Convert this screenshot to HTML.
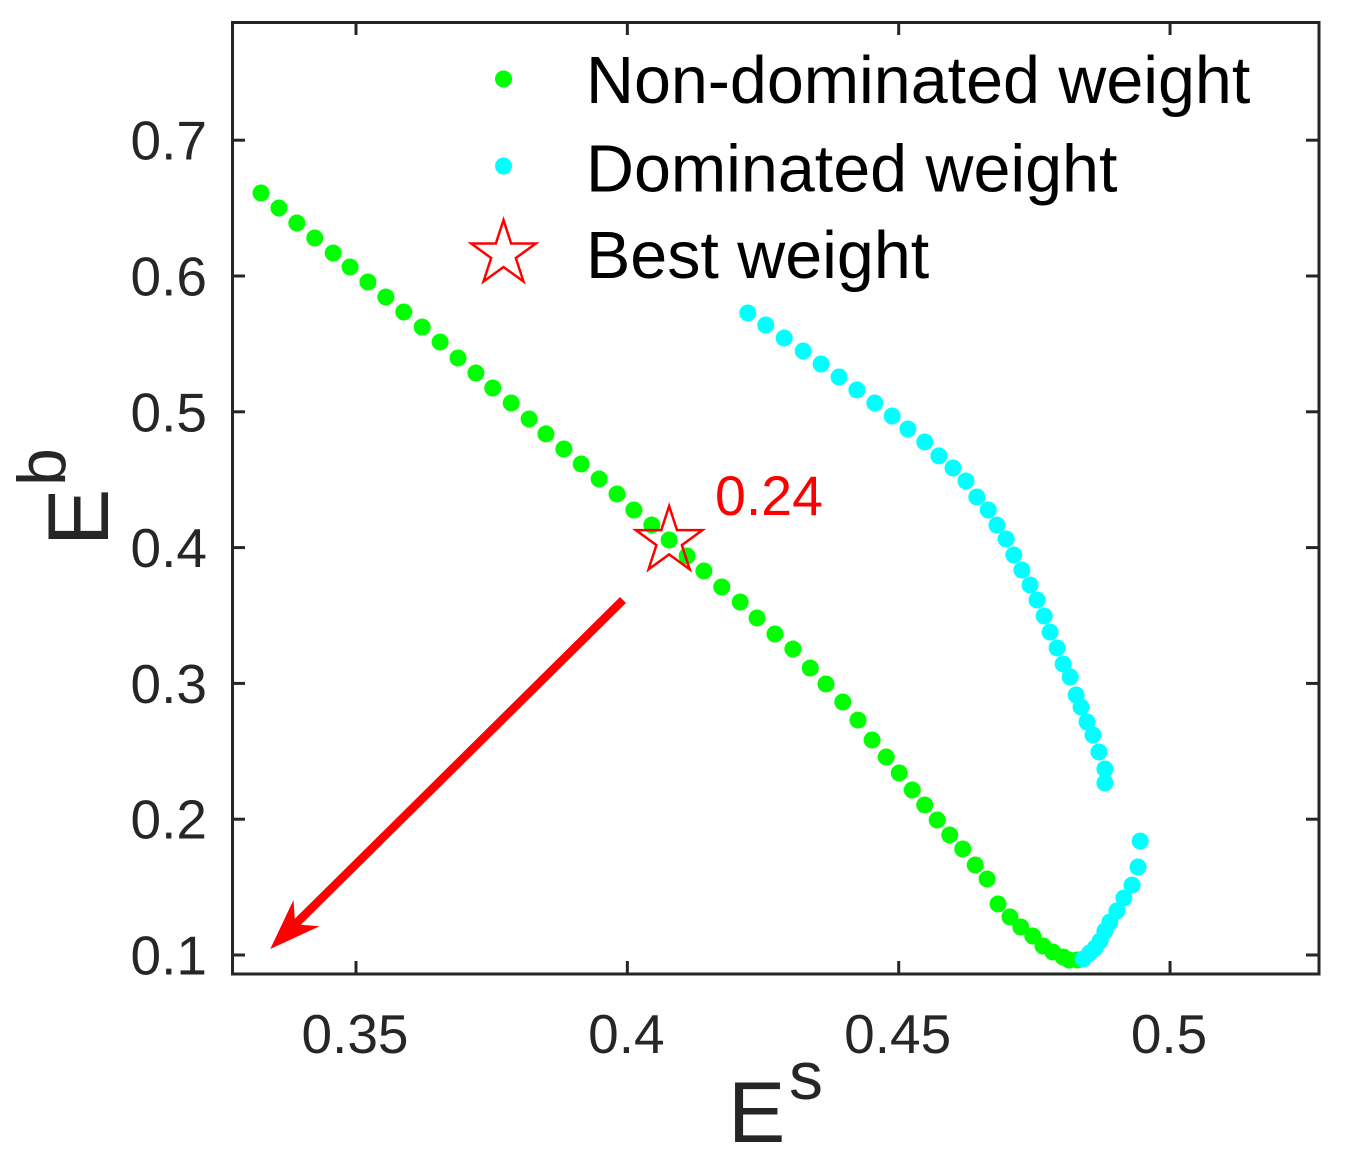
<!DOCTYPE html>
<html lang="en">
<head>
<meta charset="utf-8">
<title>Non-dominated and dominated weights</title>
<style>
html,body{margin:0;padding:0;background:#fff;width:1345px;height:1157px;overflow:hidden}
svg{display:block}
text{font-family:"Liberation Sans",Arial,sans-serif}
</style>
</head>
<body>
<svg id="chart" xmlns="http://www.w3.org/2000/svg" width="1345" height="1157" viewBox="0 0 1345 1157">
  <rect x="232.5" y="22.5" width="1086.5" height="951.5" fill="#fff"/>
  <g id="ticks"></g>
  <g id="tick-labels"></g>
  <g id="series"></g>
  <rect x="232.5" y="22.5" width="1086.5" height="951.5" fill="none" stroke="#262626" stroke-width="3"/>
  <g fill="#262626">
    <text x="728" y="1142" font-size="86">E</text>
    <text x="789" y="1099" font-size="68">s</text>
  </g>
  <g fill="#262626">
    <text transform="translate(108,546) rotate(-90)" font-size="86">E</text>
    <text transform="translate(65,486) rotate(-90)" font-size="68">b</text>
  </g>
  <text x="715" y="515" font-size="55.5" fill="#f00">0.24</text>
  <g>
    <circle cx="503.5" cy="79" r="8.5" fill="#0f0"/>
    <text x="586" y="103" font-size="66.4" fill="#000">Non-dominated weight</text>
    <circle cx="503.5" cy="166" r="8.5" fill="#0ff"/>
    <text x="586" y="191.5" font-size="66.4" fill="#000">Dominated weight</text>
    <polygon id="legend-star" fill="none" stroke="#f00" stroke-width="2.5"></polygon>
    <text x="586" y="278" font-size="66.4" fill="#000">Best weight</text>
  </g>
</svg>
<script>
const xTicks = [0.35, 0.4, 0.45, 0.5];
const xTickLabels = ['0.35', '0.4', '0.45', '0.5'];
const yTicks = [0.1, 0.2, 0.3, 0.4, 0.5, 0.6, 0.7];
const yTickLabels = ['0.1', '0.2', '0.3', '0.4', '0.5', '0.6', '0.7'];

const nonDominatedEs = [0.3325,0.3358,0.3391,0.3424,0.3458,0.3489,0.3522,0.3555,0.3588,0.3622,0.3655,0.3688,0.3721,0.3752,0.3786,0.3819,0.3850,0.3883,0.3915,0.3948,0.3981,0.4012,0.4045,0.4077,0.4110,0.4141,0.4174,0.4208,0.4239,0.4272,0.4305,0.4337,0.4366,0.4397,0.4425,0.4451,0.4477,0.4501,0.4525,0.4548,0.4571,0.4594,0.4618,0.4641,0.4663,0.4683,0.4705,0.4725,0.4747,0.4766,0.4784,0.4803,0.4814,0.4829];
const nonDominatedEb = [0.6611,0.6501,0.6390,0.6280,0.6169,0.6066,0.5956,0.5845,0.5735,0.5624,0.5514,0.5396,0.5286,0.5175,0.5065,0.4947,0.4837,0.4726,0.4616,0.4505,0.4395,0.4277,0.4166,0.4056,0.3938,0.3828,0.3710,0.3599,0.3482,0.3364,0.3253,0.3113,0.2996,0.2863,0.2730,0.2583,0.2458,0.2340,0.2215,0.2105,0.1994,0.1884,0.1781,0.1663,0.1560,0.1376,0.1280,0.1206,0.1140,0.1066,0.1022,0.0985,0.0963,0.0963];

const dominatedLowerEs = [0.4840,0.4852,0.4862,0.4871,0.4880,0.4889,0.4902,0.4915,0.4930,0.4941,0.4945];
const dominatedLowerEb = [0.0971,0.1015,0.1052,0.1103,0.1177,0.1243,0.1324,0.1420,0.1515,0.1648,0.1839];

const dominatedUpperEs = [0.4222,0.4255,0.4289,0.4324,0.4357,0.4390,0.4423,0.4456,0.4488,0.4517,0.4548,0.4574,0.4600,0.4624,0.4644,0.4665,0.4681,0.4698,0.4712,0.4727,0.4742,0.4755,0.4768,0.4779,0.4792,0.4803,0.4816,0.4827,0.4836,0.4847,0.4858,0.4869,0.4880,0.4880];
const dominatedUpperEb = [0.5728,0.5639,0.5543,0.5448,0.5352,0.5256,0.5161,0.5065,0.4969,0.4873,0.4778,0.4675,0.4586,0.4490,0.4373,0.4277,0.4166,0.4063,0.3946,0.3835,0.3725,0.3614,0.3496,0.3378,0.3261,0.3143,0.3047,0.2915,0.2826,0.2716,0.2620,0.2495,0.2370,0.2267];

const bestEs = [0.4077];
const bestEb = [0.4056];

const arrowEs = [0.3992, 0.3342];
const arrowEb = [0.3614, 0.1044];

const NS = 'http://www.w3.org/2000/svg';
function xScale(v) { return 356 + (v - 0.35) * 5427; }
function yScale(v) { return 955 - (v - 0.1) * 1358; }

function make(tag, attrs, parent) {
  const el = document.createElementNS(NS, tag);
  for (const k in attrs) el.setAttribute(k, attrs[k]);
  parent.appendChild(el);
  return el;
}
function starPoints(cx, cy, R) {
  const r = R * 0.382, pts = [];
  for (let i = 0; i < 10; i++) {
    const a = -Math.PI / 2 + i * Math.PI / 5, q = i % 2 ? r : R;
    pts.push((cx + q * Math.cos(a)).toFixed(2) + ',' + (cy + q * Math.sin(a)).toFixed(2));
  }
  return pts.join(' ');
}

const tickLayer = document.getElementById('ticks');
const labelLayer = document.getElementById('tick-labels');
const seriesLayer = document.getElementById('series');
const tickStyle = { stroke: '#262626', 'stroke-width': 3 };

xTicks.forEach(function (v, i) {
  const px = xScale(v);
  const bottom = make('line', Object.assign({ x1: px, x2: px, y1: 974, y2: 961 }, tickStyle), tickLayer);
  
  
  const top = make('line', Object.assign({ x1: px, x2: px, y1: 22, y2: 35 }, tickStyle), tickLayer);
  
  
  const label = make('text', { x: px - 1, y: 1053, 'font-size': 55, 'text-anchor': 'middle', fill: '#262626' }, labelLayer);
  label.textContent = xTickLabels[i];
  
  
});

yTicks.forEach(function (v, i) {
  const py = yScale(v);
  const left = make('line', Object.assign({ x1: 232, x2: 245, y1: py, y2: py }, tickStyle), tickLayer);
  
  
  const right = make('line', Object.assign({ x1: 1319, x2: 1306, y1: py, y2: py }, tickStyle), tickLayer);
  
  
  const label = make('text', { x: 207, y: py + 19.5, 'font-size': 55, 'text-anchor': 'end', fill: '#262626' }, labelLayer);
  label.textContent = yTickLabels[i];
  
  
});

nonDominatedEs.forEach(function (v, i) {
  const c = make('circle', { cx: xScale(v), cy: yScale(nonDominatedEb[i]), r: 8.5, fill: '#0f0' }, seriesLayer);
  
  
});
dominatedUpperEs.forEach(function (v, i) {
  const c = make('circle', { cx: xScale(v), cy: yScale(dominatedUpperEb[i]), r: 8.5, fill: '#0ff' }, seriesLayer);
  
  
});
dominatedLowerEs.forEach(function (v, i) {
  const c = make('circle', { cx: xScale(v), cy: yScale(dominatedLowerEb[i]), r: 8.5, fill: '#0ff' }, seriesLayer);
  
  
});

bestEs.forEach(function (v, i) {
  const s = make('polygon', { points: starPoints(xScale(v), yScale(bestEb[i]) + 1, 35), fill: 'none', stroke: '#f00', 'stroke-width': 2.5 }, seriesLayer);
  
  
});

const ax0 = xScale(arrowEs[0]), ay0 = yScale(arrowEb[0]);
const ax1 = xScale(arrowEs[1]), ay1 = yScale(arrowEb[1]);
const alen = Math.hypot(ax1 - ax0, ay1 - ay0);
const ux = (ax1 - ax0) / alen, uy = (ay1 - ay0) / alen;
const shaft = make('line', { x1: ax0, y1: ay0, x2: ax1 - ux * 30, y2: ay1 - uy * 30, stroke: '#f00', 'stroke-width': 8.5 }, seriesLayer);


const hx = ax1 - ux * 51, hy = ay1 - uy * 51;
const nx = ax1 - ux * 35, ny = ay1 - uy * 35;
const head = [
  ax1 + ',' + ay1,
  (hx + uy * 18.5) + ',' + (hy - ux * 18.5),
  nx + ',' + ny,
  (hx - uy * 18.5) + ',' + (hy + ux * 18.5)
].join(' ');
const arrowHead = make('polygon', { points: head, fill: '#f00' }, seriesLayer);



document.getElementById('legend-star').setAttribute('points', starPoints(503.5, 254, 34));
</script>
</body>
</html>
